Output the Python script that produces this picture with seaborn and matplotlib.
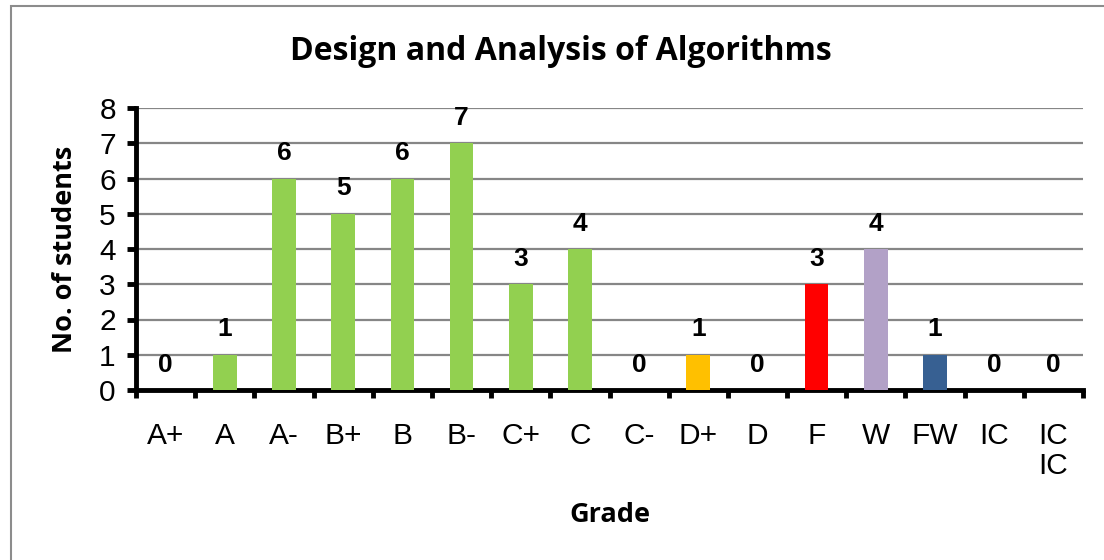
import matplotlib
matplotlib.use('Agg')
import matplotlib.pyplot as plt
import matplotlib.patches as patches
import numpy as np
import pandas as pd
import seaborn as sns

sns.set_theme(style="white")
plt.rcParams['font.family'] = ['Liberation Sans', 'DejaVu Sans']
plt.rcParams['text.color'] = 'black'
plt.rcParams['xtick.color'] = 'black'
plt.rcParams['ytick.color'] = 'black'
plt.rcParams['axes.labelcolor'] = 'black'

grades = ['A+', 'A', 'A-', 'B+', 'B', 'B-', 'C+', 'C', 'C-', 'D+', 'D', 'F', 'W', 'FW', 'IC', 'IC\nIC']
counts = [0, 1, 6, 5, 6, 7, 3, 4, 0, 1, 0, 3, 4, 1, 0, 0]
bar_colors = ['#92D050'] * 8 + ['#92D050', '#FFC000', '#92D050', '#FF0000', '#B2A1C7', '#376092', '#92D050', '#92D050']

df = pd.DataFrame({'grade': grades, 'count': counts})

fig = plt.figure(figsize=(11.04, 5.6), dpi=100)
ax = fig.add_axes([136 / 1104, 1 - 390 / 560, (1083 - 136) / 1104, (390 - 108) / 560])

# outer chart border
fig.patches.append(patches.Rectangle((11 / 1104, -0.1), 1.2, 1.1 - 6 / 560,
                                     transform=fig.transFigure, fill=False,
                                     edgecolor='#8c8c8c', linewidth=1.5))

sns.barplot(data=df, x='grade', y='count', hue='grade', palette=bar_colors,
            width=0.4, legend=False, saturation=1, linewidth=0, ax=ax, zorder=3)

ax.set_xlim(-0.5, len(grades) - 0.5)
ax.set_ylim(0, 8)
ax.set_yticks(range(0, 9))
ax.yaxis.grid(True, color='#868686', linewidth=1.6, zorder=0)
ax.set_axisbelow(True)

for side in ['top', 'right']:
    ax.spines[side].set_visible(False)
for side in ['left', 'bottom']:
    ax.spines[side].set_color('black')
    ax.spines[side].set_linewidth(3.5)

ax.set_xticks(np.arange(-0.5, len(grades), 1.0), minor=True)
ax.set_xticks(range(len(grades)))
ax.set_xticklabels(grades, fontsize=21.5, linespacing=1.1)
ax.tick_params(axis='x', which='major', bottom=True, length=0, pad=23)
ax.tick_params(axis='x', which='minor', bottom=True, length=6, width=3.5, color='black', direction='out')
ax.tick_params(axis='y', left=True, length=6.5, width=3.5, color='black', direction='out', labelsize=21.5, pad=8)

for i, v in enumerate(counts):
    ax.text(i, v + 0.72, str(v), ha='center', va='center', fontsize=19, fontweight='bold', color='black')

ax.set_xlabel('Grade', fontsize=19.5, fontweight='bold', family='Open Sans')
ax.xaxis.set_label_coords(0.5, -(515 - 390) / (390 - 108))
ax.xaxis.label.set_va('center')
ax.set_ylabel('No. of students', fontsize=19.5, fontweight='bold', family='Open Sans')
ax.yaxis.set_label_coords(-(136 - 65) / (1083 - 136), 0.5)
ax.yaxis.label.set_va('center')
fig.text(0.508, 1 - 52 / 560, 'Design and Analysis of Algorithms', ha='center', va='center',
         fontsize=23, fontweight='bold', family='Open Sans', color='black')

fig.savefig('out.png', dpi=100)
